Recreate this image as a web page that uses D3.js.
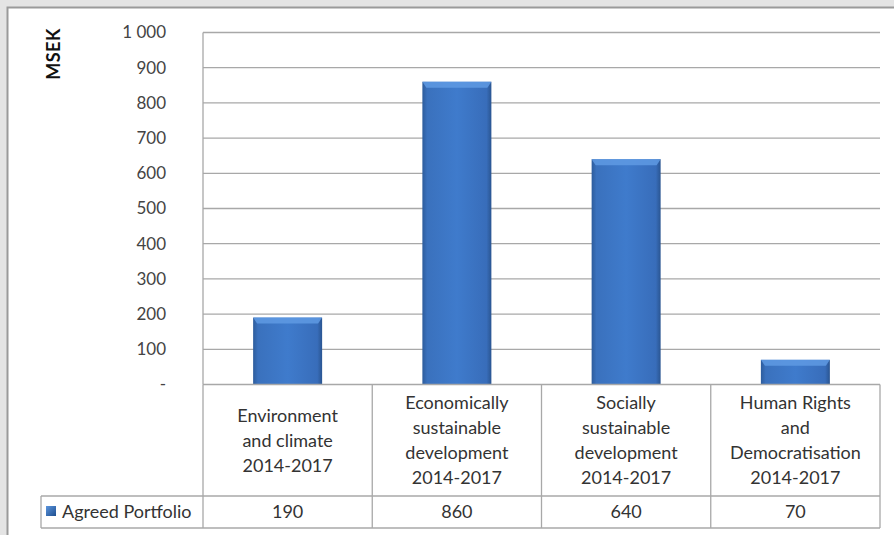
<!DOCTYPE html>
<html><head><meta charset="utf-8">
<script src="https://cdn.jsdelivr.net/npm/d3@7"></script>
<style>
html,body{margin:0;padding:0;background:#fff;}
svg{display:block;font-family:Lato,"Open Sans",sans-serif;}
</style></head>
<body>
<svg id="c" width="894" height="535"></svg>
<script>
const categories = [
  ["Environment","and climate","2014-2017"],
  ["Economically","sustainable","development","2014-2017"],
  ["Socially","sustainable","development","2014-2017"],
  ["Human Rights","and","Democratisation","2014-2017"]
];
const seriesName = "Agreed Portfolio";
const values = [190, 860, 640, 70];
const valueLabels = ["190", "860", "640", "70"];
const yTicks = [0,100,200,300,400,500,600,700,800,900,1000];
const yTickLabels = ["-","100","200","300","400","500","600","700","800","900","1 000"];
const yTitle = "MSEK";

const svg = d3.select("#c");
// outer frame
svg.append("rect").attr("x",0).attr("y",0).attr("width",894).attr("height",535).attr("fill","#e4e4e4");
svg.append("rect").attr("x",7.5).attr("y",7.5).attr("width",900).attr("height",540).attr("fill","#fff").attr("stroke","#9a9a9a").attr("stroke-width",2);

const L=203, R=880, T=32.5, B=384.5, rowB=496, valB=528, legL=41;
const x = d3.scaleBand().domain(d3.range(categories.length)).range([L,R]).paddingInner(0).paddingOuter(0);
const y = d3.scaleLinear().domain([0,1000]).range([B,T]);

const defs = svg.append("defs");
const g1 = defs.append("linearGradient").attr("id","barg").attr("x1","0").attr("x2","1").attr("y1","0").attr("y2","0");
g1.append("stop").attr("offset","0").attr("stop-color","#2d5c9c");
g1.append("stop").attr("offset","0.07").attr("stop-color","#3a71bd");
g1.append("stop").attr("offset","0.5").attr("stop-color","#3f7bcc");
g1.append("stop").attr("offset","0.93").attr("stop-color","#386dba");
g1.append("stop").attr("offset","1").attr("stop-color","#2a5591");
const g2 = defs.append("linearGradient").attr("id","lg").attr("x1","0").attr("x2","1").attr("y1","0").attr("y2","1");
g2.append("stop").attr("offset","0").attr("stop-color","#5b95dd");
g2.append("stop").attr("offset","1").attr("stop-color","#1f4f8f");

// gridlines
svg.append("g").selectAll("line").data(yTicks.filter(d=>d>0)).join("line")
  .attr("x1",L).attr("x2",R).attr("y1",d=>y(d)).attr("y2",d=>y(d))
  .attr("stroke","#a8a8a8").attr("stroke-width",1.3);
// left axis line
svg.append("line").attr("x1",L).attr("x2",L).attr("y1",T).attr("y2",B).attr("stroke","#a8a8a8").attr("stroke-width",1.3);

// y axis labels via d3 axis
const ya = svg.append("g").attr("transform",`translate(${L-37},0)`)
  .call(d3.axisLeft(y).tickValues(yTicks).tickFormat((d,i)=>yTickLabels[i]).tickSize(0).tickPadding(0));
ya.select(".domain").remove();
ya.selectAll("text").attr("font-size",17).attr("fill","#444").attr("font-family","Lato,'Open Sans',sans-serif").attr("dy","0.32em");

// y title
svg.append("text").attr("transform","translate(60,54) rotate(-90)").attr("text-anchor","middle")
  .attr("font-weight","bold").attr("font-size",18).attr("letter-spacing",0.5).attr("fill","#111").text(yTitle);

// bars
const bw = 69;
const bars = svg.append("g").selectAll("g").data(values).join("g");
bars.append("rect").attr("x",(d,i)=>x(i)+x.bandwidth()/2-bw/2).attr("width",bw)
  .attr("y",d=>y(d)).attr("height",d=>B-y(d)).attr("fill","url(#barg)");
bars.append("path").attr("d",(d,i)=>{
  const x0=x(i)+x.bandwidth()/2-bw/2, x1=x0+bw, y0=y(d), h=6;
  return `M${x0},${y0}L${x1},${y0}L${x1-4},${y0+h}L${x0+4},${y0+h}Z`;
}).attr("fill","#5f9ae3").attr("opacity",0.85);

// table
const tbl = svg.append("g").attr("stroke","#a8a8a8").attr("stroke-width",1.3);
tbl.append("line").attr("x1",L).attr("x2",R).attr("y1",B).attr("y2",B);
tbl.append("line").attr("x1",legL).attr("x2",R).attr("y1",rowB).attr("y2",rowB);
tbl.append("line").attr("x1",legL).attr("x2",R).attr("y1",valB).attr("y2",valB);
tbl.append("line").attr("x1",legL).attr("x2",legL).attr("y1",rowB).attr("y2",valB);
tbl.selectAll(".v").data(d3.range(categories.length+1)).join("line")
  .attr("x1",i=>i<categories.length?x(i):R).attr("x2",i=>i<categories.length?x(i):R)
  .attr("y1",B).attr("y2",valB);

// category labels
const lh = 25;
svg.append("g").selectAll("text").data(categories).join("text")
  .attr("text-anchor","middle").attr("font-size",18).attr("fill","#333")
  .each(function(lines,i){
    const cy=(B+rowB)/2, n=lines.length;
    d3.select(this).selectAll("tspan").data(lines).join("tspan")
      .attr("x",x(i)+x.bandwidth()/2).attr("y",(l,j)=>cy+(j-(n-1)/2)*lh).attr("dy","0.35em").text(l=>l);
  });

// value row
svg.append("g").selectAll("text").data(valueLabels).join("text")
  .attr("x",(d,i)=>x(i)+x.bandwidth()/2).attr("y",(rowB+valB)/2).attr("dy","0.35em")
  .attr("text-anchor","middle").attr("font-size",18).attr("fill","#333").text(d=>d);

// legend key
svg.append("rect").attr("x",46).attr("y",506).attr("width",10).attr("height",10).attr("fill","url(#lg)");
svg.append("text").attr("x",62).attr("y",(rowB+valB)/2).attr("dy","0.35em").attr("font-size",18).attr("fill","#333").text(seriesName);
</script>
</body></html>
